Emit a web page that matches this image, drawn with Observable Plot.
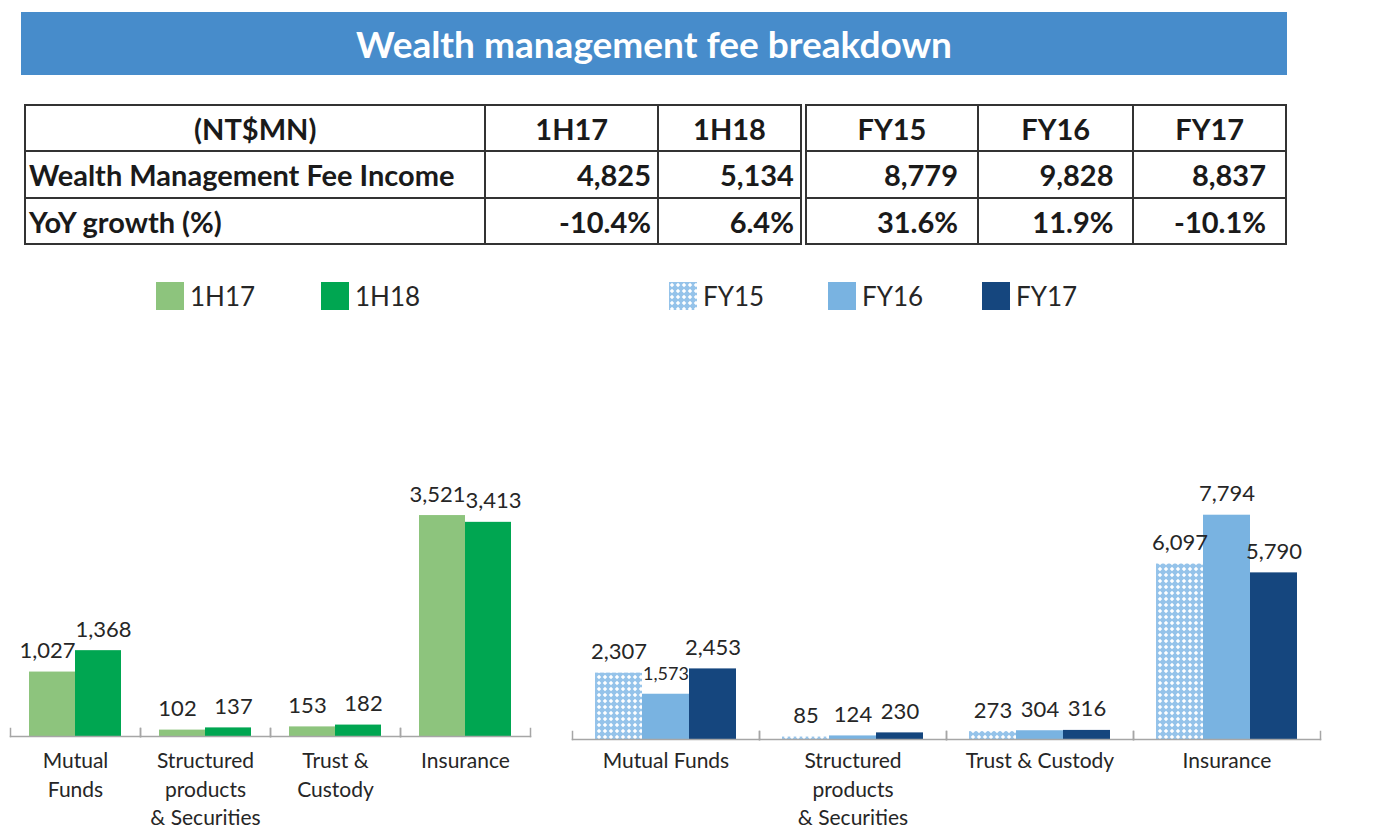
<!DOCTYPE html>
<html>
<head>
<meta charset="utf-8">
<script src="https://cdn.jsdelivr.net/npm/d3@7"></script>
<script src="https://cdn.jsdelivr.net/npm/@observablehq/plot@0.6"></script>
<style>
  html, body { margin: 0; padding: 0; background: #fff; }
  body { width: 1374px; height: 827px; position: relative; overflow: hidden; font-family: Lato, "Open Sans", sans-serif; color: #262626; }
  #banner { position: absolute; left: 21px; top: 12px; width: 1266px; height: 63px; background: #478CCB; color: #fff;
            font: bold 37px Lato, sans-serif; display: flex; align-items: center; justify-content: center; }
  #tbl { position: absolute; left: 24px; top: 104px; width: 1263px; border-collapse: collapse; table-layout: fixed;
         font: bold 29px Lato, sans-serif; color: #1a1a1a; }
  #tbl td { border: 2px solid #333; padding: 0 19px 0 3px; white-space: nowrap; }
  #tbl td.num { text-align: right; }
  #tbl td.h { padding-right: 6px; }
  #tbl tr.head td { text-align: center; padding: 0; }
  #tbl td.dbl { border-left: 7px double #333; }
  .leg { position: absolute; top: 282px; height: 28px; display: flex; align-items: center; font: 26px Lato, sans-serif; color: #262626; }
  .sw { width: 28px; height: 28px; margin-right: 6px; }
  .chart { position: absolute; }
</style>
</head>
<body>
<svg width="0" height="0" style="position:absolute">
  <defs>
    <pattern id="fy15pat" width="6" height="6" patternUnits="userSpaceOnUse">
      <rect width="6" height="6" fill="#95C3EA"></rect>
      <path d="M3 0.8 L5.2 3 L3 5.2 L0.8 3 Z" fill="#ffffff"></path>
    </pattern>
  </defs>
</svg>
<div id="banner">Wealth management fee breakdown</div>
<table id="tbl"></table>
<div id="legends"></div>
<div id="left" class="chart" style="left:0px;top:440px;"></div>
<div id="right" class="chart" style="left:560px;top:440px;"></div>
<script>
// ---- Table data ----
const tableHeader = "(NT$MN)";
const tableCols = ["1H17", "1H18", "FY15", "FY16", "FY17"];
const rowFeeLabel = "Wealth Management Fee Income";
const feeIncome = [4825, 5134, 8779, 9828, 8837];
const rowYoyLabel = "YoY growth (%)";
const yoyGrowth = [-10.4, 6.4, 31.6, 11.9, -10.1];

// ---- Chart data ----
const categories = ["Mutual Funds", "Structured products & Securities", "Trust & Custody", "Insurance"];
const labelsLeft = ["Mutual\nFunds", "Structured\nproducts\n& Securities", "Trust &\nCustody", "Insurance"];
const labelsRight = ["Mutual Funds", "Structured\nproducts\n& Securities", "Trust & Custody", "Insurance"];
const seriesHalf = ["1H17", "1H18"];
const v1H17 = [1027, 102, 153, 3521];
const v1H18 = [1368, 137, 182, 3413];
const seriesFY = ["FY15", "FY16", "FY17"];
const vFY15 = [2307, 85, 273, 6097];
const vFY16 = [1573, 124, 304, 7794];
const vFY17 = [2453, 230, 316, 5790];

const colorsHalf = ["#8DC47D", "#00A651"];
const colorsFY = ["url(#fy15pat)", "#79B3E1", "#15467E"];

// ---- Table ----
const colWidths = [459, 172, 145, 174, 155, 152];
const tbl = document.getElementById("tbl");
const cg = document.createElement("colgroup");
colWidths.forEach(w => { const c = document.createElement("col"); c.style.width = w + "px"; cg.appendChild(c); });
tbl.appendChild(cg);
function addRow(cls, first, cells, h) {
  const tr = document.createElement("tr");
  tr.className = cls; tr.style.height = h + "px";
  const td0 = document.createElement("td"); td0.textContent = first; tr.appendChild(td0);
  cells.forEach((t, i) => {
    const td = document.createElement("td");
    td.textContent = t; td.className = "num" + (i < 2 ? " h" : "") + (i === 2 ? " dbl" : "");
    tr.appendChild(td);
  });
  tbl.appendChild(tr);
}
addRow("head", tableHeader, tableCols, 46);
addRow("", rowFeeLabel, feeIncome.map(d3.format(",")), 47);
addRow("", rowYoyLabel, yoyGrowth.map(v => v.toFixed(1) + "%"), 46);

// ---- Legends ----
const legends = document.getElementById("legends");
function legendItem(name, fill, x) {
  const d = document.createElement("div");
  d.className = "leg"; d.style.left = x + "px";
  d.innerHTML = `<svg class="sw" width="28" height="28"><rect width="28" height="28" fill="${fill}"></rect></svg><span>${name}</span>`;
  legends.appendChild(d);
}
const legX = [156, 321, 669, 828, 982];
seriesHalf.forEach((s, i) => legendItem(s, colorsHalf[i], legX[i]));
seriesFY.forEach((s, i) => legendItem(s, colorsFY[i], legX[i + 2]));

// ---- Charts ----
function chart({series, values, labels, colors, width, height, marginLeft, marginRight, marginTop, marginBottom, yMax, paddingOuter, labelDy, spread}) {
  const data = [];
  categories.forEach((c, i) => series.forEach((s, j) => {
    const v = values[j][i];
    // a middle bar lower than both neighbours gets a smaller label so it fits between them
    const squeezed = j > 0 && j < series.length - 1 && v < values[j - 1][i] && v < values[j + 1][i];
    data.push({cat: c, series: s, value: v, squeezed});
  }));
  const catData = categories.map((c, i) => ({cat: c, label: labels[i]}));
  const plotH = height - marginTop - marginBottom;
  const fmt = d3.format(",");
  const axisColor = "#A6A6A6";
  return Plot.plot({
    width, height, marginLeft, marginRight, marginTop, marginBottom,
    style: {fontFamily: "Lato, sans-serif", fontSize: "22px", color: "#262626", background: "transparent", overflow: "visible"},
    fx: {domain: categories, padding: 0, axis: null},
    x: {domain: series, paddingInner: 0, paddingOuter, axis: null},
    y: {domain: [0, yMax], axis: null},
    color: {domain: series, range: colors},
    marks: [
      Plot.barY(data, {fx: "cat", x: "series", y: "value", fill: "series", inset: 0}),
      Plot.frame({anchor: "bottom", stroke: axisColor, strokeWidth: 1.5}),
      Plot.frame({anchor: "left", stroke: axisColor, strokeWidth: 1.5, insetTop: plotH - 8}),
      Plot.frame({anchor: "right", stroke: axisColor, strokeWidth: 1.5, insetTop: plotH - 8}),
      ...series.map((s, j) => Plot.text(data.filter(d => d.series === s), {
        fx: "cat", x: "series", y: "value", text: d => fmt(d.value),
        lineAnchor: "bottom", dy: -14, dx: spread[j],
        fontSize: d => d.squeezed ? 18 : 22, fill: "#262626"})),
      Plot.text(catData, {fx: "cat", text: "label", frameAnchor: "bottom", lineAnchor: "top",
        dy: labelDy, lineHeight: 1.37, fontSize: 21, fill: "#262626"})
    ]
  });
}

document.getElementById("left").appendChild(chart({
  series: seriesHalf, values: [v1H17, v1H18], labels: labelsLeft, colors: colorsHalf,
  width: 560, height: 386, marginLeft: 10, marginRight: 30, marginTop: 45, marginBottom: 90,
  yMax: 4000, paddingOuter: 0.4, labelDy: 11, spread: [-5, 5]
}));
document.getElementById("right").appendChild(chart({
  series: seriesFY, values: [vFY15, vFY16, vFY17], labels: labelsRight, colors: colorsFY,
  width: 800, height: 387, marginLeft: 12, marginRight: 40, marginTop: 40, marginBottom: 88,
  yMax: 9000, paddingOuter: 0.45, labelDy: 8, spread: [0, 0, 0]
}));
</script>
</body>
</html>
